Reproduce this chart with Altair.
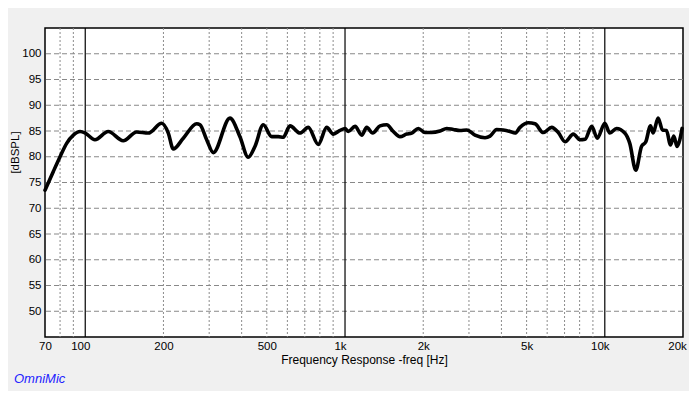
import altair as alt
import pandas as pd

freq = [70, 75.3, 80.0, 84.8, 90.0, 95.5, 100, 109, 122.6, 140, 157.8, 174.9, 196.9, 208.8, 218.2,
        238.5, 268.5, 276.5, 293.4, 311, 360.7, 394, 424, 450, 484.6, 522, 553.5, 578.6, 614,
        670.8, 722, 789, 850, 901, 956, 1000, 1030, 1093, 1160, 1212, 1278, 1364, 1447, 1534,
        1628, 1728, 1806, 1915, 2032, 2156, 2321, 2463, 2612, 2771, 2940, 3165, 3459, 3615,
        3836, 4067, 4317, 4513, 4717, 5076, 5386, 5798, 6246, 6622, 7032, 7565, 8027, 8391,
        8904, 9357, 10000, 10453, 11093, 11938, 12478, 13161, 13845, 14383, 14996, 15343,
        16038, 16675, 17276, 17899, 18431, 18982, 19443, 19843]
spl = [73.5, 77.1, 80.0, 82.6, 84.2, 84.9, 84.6, 83.3, 84.9, 83.1, 84.8, 84.6, 86.5, 84.6, 81.5,
       83.6, 86.4, 86.2, 83.3, 80.8, 87.5, 83.9, 79.9, 82.0, 86.2, 83.9, 83.9, 83.8, 86.0,
       84.6, 85.7, 82.4, 85.7, 84.4, 85.1, 85.5, 84.9, 85.9, 84.2, 85.7, 84.6, 86.0, 86.2, 84.9,
       83.9, 84.4, 84.6, 85.5, 84.7, 84.7, 85.0, 85.5, 85.3, 85.1, 85.2, 84.2, 83.7, 84.0,
       85.3, 85.2, 84.9, 84.6, 85.7, 86.6, 86.4, 84.7, 85.7, 84.7, 82.9, 84.4, 83.3, 83.4,
       85.9, 83.6, 86.5, 84.6, 85.5, 84.6, 82.6, 77.4, 82.0, 82.9, 86.0, 84.6, 87.5, 85.2,
       85.1, 82.3, 84.0, 82.0, 83.3, 85.5]

x_ticks = [70, 100, 200, 500, 1000, 2000, 5000, 10000, 20000]
y_ticks = [50, 55, 60, 65, 70, 75, 80, 85, 90, 95, 100]
minor_lines = [80, 90, 200, 300, 400, 500, 600, 700, 800, 900,
               2000, 3000, 4000, 5000, 6000, 7000, 8000, 9000]
major_lines = [100, 1000, 10000]

FONT = "Liberation Sans"
xscale = alt.Scale(type="log", domain=[70, 20000], nice=False)
yscale = alt.Scale(domain=[45, 105], nice=False, zero=False)

xaxis = alt.Axis(
    values=x_ticks, grid=False, ticks=False, domain=False,
    labelExpr="datum.value >= 1000 ? (datum.value/1000) + 'k' : datum.value",
    labelFont=FONT, labelFontSize=11.5, labelColor="black", labelPadding=3,
    labelFlush=False, labelOverlap=False,
    labelOffset={"condition": [
        {"test": "datum.value == 100 || datum.value == 1000 || datum.value == 10000", "value": -5},
        {"test": "datum.value == 20000", "value": -6}], "value": 0},
    title="Frequency Response -freq [Hz]", titleFont=FONT, titleFontSize=12,
    titleFontWeight="normal", titleColor="black", titleY=22, titleBaseline="middle")
yaxis = alt.Axis(
    values=y_ticks, grid=False, ticks=False, domain=False,
    labelFont=FONT, labelFontSize=11.5, labelColor="black", labelPadding=4,
    title="[dBSPL]", titleFont=FONT, titleFontSize=11.5, titleFontWeight="normal",
    titleColor="black", titleX=-30, titleY=124, titleAngle=270,
    titleBaseline="middle", titleAlign="center")

df = pd.DataFrame({"freq": freq, "spl": spl})

hgrid = alt.Chart(pd.DataFrame({"v": y_ticks})).mark_rule(
    color="#888888", strokeWidth=1, strokeDash=[5, 3]
).encode(y=alt.Y("v:Q", scale=yscale, axis=yaxis))

vminor = alt.Chart(pd.DataFrame({"f": minor_lines})).mark_rule(
    color="#8c8c8c", strokeWidth=1, strokeDash=[2, 2]
).encode(x=alt.X("f:Q", scale=xscale, axis=xaxis))

vmajor = alt.Chart(pd.DataFrame({"f": major_lines})).mark_rule(
    color="black", strokeWidth=1.2
).encode(x=alt.X("f:Q", scale=xscale, axis=xaxis))

line = alt.Chart(df).mark_line(
    color="black", strokeWidth=3.6, interpolate="monotone", strokeJoin="round", strokeCap="round"
).encode(
    x=alt.X("freq:Q", scale=xscale, axis=xaxis),
    y=alt.Y("spl:Q", scale=yscale, axis=yaxis)
)

brand = alt.Chart(pd.DataFrame({"t": ["OmniMic"]})).mark_text(
    font=FONT, fontSize=13, fontStyle="italic", color="#2222ff", align="left",
    baseline="middle"
).encode(text="t:N", x=alt.value(-31), y=alt.value(351))

chart = alt.layer(hgrid, vminor, vmajor, line, brand).properties(
    width=638, height=309,
    background="#f0f0f0",
    autosize=alt.AutoSizeParams(type="none"),
    padding={"left": 37, "top": 20, "right": 6, "bottom": 54}
).configure_view(
    fill="white", stroke="black", strokeWidth=1.5
)

chart.save("out.html", embed_options={"renderer": "svg", "actions": False})
